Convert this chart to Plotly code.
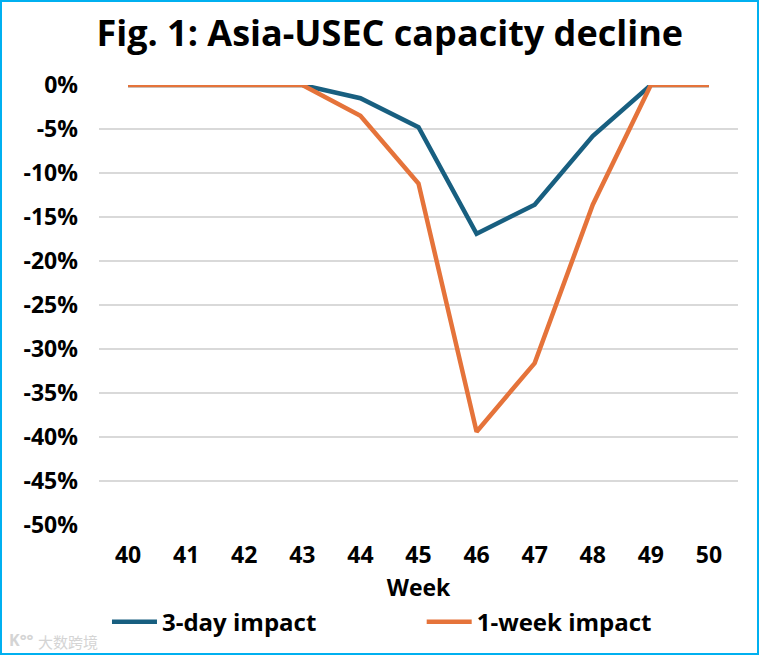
import plotly.graph_objs as go

weeks = ['40', '41', '42', '43', '44', '45', '46', '47', '48', '49', '50']
impact_3day = [0, 0, 0, 0, -1.5, -4.8, -16.9, -13.6, -5.8, 0, 0]
impact_1week = [0, 0, 0, 0, -3.5, -11.2, -39.4, -31.6, -13.6, 0, 0]
y_ticks = [0, -5, -10, -15, -20, -25, -30, -35, -40, -45, -50]
y_labels = ['%d%%' % v for v in y_ticks]

W, H = 759, 655
font_name = 'Open Sans'

fig = go.Figure()
fig.add_trace(go.Scatter(x=weeks, y=impact_3day, mode='lines', name='3-day impact', legend='legend', showlegend=True,
                         line=dict(color='#185F80', width=4.5), cliponaxis=False))
fig.add_trace(go.Scatter(x=weeks, y=impact_1week, mode='lines', name='1-week impact', legend='legend2', showlegend=True,
                         line=dict(color='#E5733A', width=4.5), cliponaxis=False))

legend_style = dict(orientation='h', xanchor='left', y=-0.221, yanchor='middle', itemwidth=45,
                    font=dict(size=24, family=font_name, weight='bold'))

fig.update_layout(
    width=W, height=H,
    margin=dict(l=99, r=21, t=85, b=130, autoexpand=False),
    paper_bgcolor='white', plot_bgcolor='white',
    font=dict(family=font_name, color='black', size=23),
    title=dict(text='<b>Fig. 1: Asia-USEC capacity decline</b>', font=dict(size=36),
               x=0.455, xanchor='center', xref='paper', y=0.949, yanchor='middle'),
    legend=dict(x=0.0125, **legend_style),
    legend2=dict(x=0.505, **legend_style),
)
fig.update_xaxes(type='category', range=[-0.5, 10.5], showgrid=False, showline=False, automargin=False,
                 ticks='', ticklabelstandoff=14, tickfont=dict(size=23, family=font_name, weight='bold'),
                 title=dict(text='<b>Week</b>', font=dict(size=23), standoff=10))
fig.update_yaxes(range=[-50, 0], tickvals=y_ticks, ticktext=y_labels, showgrid=True, automargin=False,
                 gridcolor='#D9D9D9', gridwidth=2, zeroline=False, showline=False,
                 ticks='', ticklabelstandoff=20, tickfont=dict(size=23, family=font_name, weight='bold'))

# blue frame around the whole image
px = lambda v: (v - 99) / (W - 99 - 21)
py = lambda v: 1 - (v - 85) / (H - 85 - 130)
fig.add_shape(type='rect', xref='paper', yref='paper', x0=px(1), x1=px(W - 1), y0=py(H - 1), y1=py(1),
              line=dict(color='#00B0F0', width=2), layer='above')

# watermark, bottom left
fig.add_annotation(xref='paper', yref='paper', x=px(38), y=py(641), text='大数跨境', showarrow=False,
                   xanchor='left', yanchor='middle', xshift=-2,
                   font=dict(size=15, color='#D4D4D4', family='Noto Sans CJK SC'))
fig.add_annotation(xref='paper', yref='paper', x=px(7), y=py(640), text='<b>K°°</b>', showarrow=False,
                   xanchor='left', yanchor='middle',
                   font=dict(size=16, color='#D4D4D4', family=font_name))

fig.write_html('out.html', config=dict(displayModeBar=False), post_script="document.body.style.margin='0';")
